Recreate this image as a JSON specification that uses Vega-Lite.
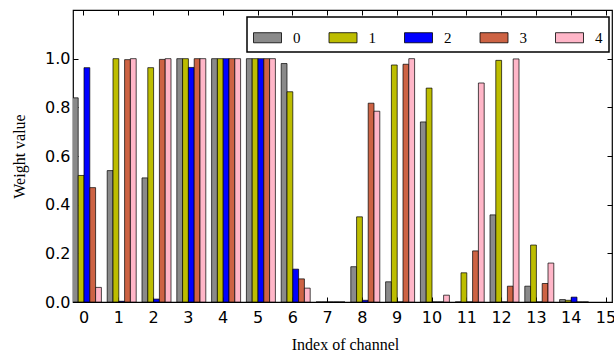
{
  "$schema": "https://vega.github.io/schema/vega-lite/v6.json",
  "autosize": "none",
  "padding": {"left": 73, "top": 10, "right": 2, "bottom": 52},
  "width": 539,
  "height": 292,
  "background": "white",
  "config": {
    "view": {"stroke": "black", "strokeWidth": 1.2},
    "axis": {
      "grid": false,
      "domain": false,
      "tickColor": "black",
      "tickSize": -5,
      "tickWidth": 1,
      "labelFont": "DejaVu Sans",
      "labelFontSize": 16,
      "labelColor": "black",
      "titleFont": "Liberation Serif",
      "titleFontSize": 16,
      "titleFontWeight": "normal",
      "titleColor": "black"
    }
  },
  "data": {
    "values": [
      {"channel": "0", "series": "0", "w": 0.839},
      {"channel": "0", "series": "1", "w": 0.52},
      {"channel": "0", "series": "2", "w": 0.963},
      {"channel": "0", "series": "3", "w": 0.47},
      {"channel": "0", "series": "4", "w": 0.06},
      {"channel": "1", "series": "0", "w": 0.54},
      {"channel": "1", "series": "1", "w": 1.0},
      {"channel": "1", "series": "2", "w": 0.003},
      {"channel": "1", "series": "3", "w": 0.996},
      {"channel": "1", "series": "4", "w": 1.0},
      {"channel": "2", "series": "0", "w": 0.51},
      {"channel": "2", "series": "1", "w": 0.963},
      {"channel": "2", "series": "2", "w": 0.012},
      {"channel": "2", "series": "3", "w": 0.997},
      {"channel": "2", "series": "4", "w": 1.0},
      {"channel": "3", "series": "0", "w": 1.0},
      {"channel": "3", "series": "1", "w": 1.0},
      {"channel": "3", "series": "2", "w": 0.964},
      {"channel": "3", "series": "3", "w": 1.0},
      {"channel": "3", "series": "4", "w": 1.0},
      {"channel": "4", "series": "0", "w": 1.0},
      {"channel": "4", "series": "1", "w": 1.0},
      {"channel": "4", "series": "2", "w": 1.0},
      {"channel": "4", "series": "3", "w": 1.0},
      {"channel": "4", "series": "4", "w": 1.0},
      {"channel": "5", "series": "0", "w": 1.0},
      {"channel": "5", "series": "1", "w": 1.0},
      {"channel": "5", "series": "2", "w": 1.0},
      {"channel": "5", "series": "3", "w": 1.0},
      {"channel": "5", "series": "4", "w": 1.0},
      {"channel": "6", "series": "0", "w": 0.98},
      {"channel": "6", "series": "1", "w": 0.864},
      {"channel": "6", "series": "2", "w": 0.135},
      {"channel": "6", "series": "3", "w": 0.095},
      {"channel": "6", "series": "4", "w": 0.057},
      {"channel": "7", "series": "0", "w": 0},
      {"channel": "7", "series": "1", "w": 0},
      {"channel": "7", "series": "2", "w": 0},
      {"channel": "7", "series": "3", "w": 0},
      {"channel": "7", "series": "4", "w": 0},
      {"channel": "8", "series": "0", "w": 0.145},
      {"channel": "8", "series": "1", "w": 0.35},
      {"channel": "8", "series": "2", "w": 0.007},
      {"channel": "8", "series": "3", "w": 0.817},
      {"channel": "8", "series": "4", "w": 0.784},
      {"channel": "9", "series": "0", "w": 0.083},
      {"channel": "9", "series": "1", "w": 0.974},
      {"channel": "9", "series": "2", "w": 0},
      {"channel": "9", "series": "3", "w": 0.977},
      {"channel": "9", "series": "4", "w": 1.0},
      {"channel": "10", "series": "0", "w": 0.74},
      {"channel": "10", "series": "1", "w": 0.879},
      {"channel": "10", "series": "2", "w": 0},
      {"channel": "10", "series": "3", "w": 0},
      {"channel": "10", "series": "4", "w": 0.028},
      {"channel": "11", "series": "0", "w": 0},
      {"channel": "11", "series": "1", "w": 0.12},
      {"channel": "11", "series": "2", "w": 0},
      {"channel": "11", "series": "3", "w": 0.21},
      {"channel": "11", "series": "4", "w": 0.9},
      {"channel": "12", "series": "0", "w": 0.358},
      {"channel": "12", "series": "1", "w": 0.993},
      {"channel": "12", "series": "2", "w": 0},
      {"channel": "12", "series": "3", "w": 0.065},
      {"channel": "12", "series": "4", "w": 0.999},
      {"channel": "13", "series": "0", "w": 0.065},
      {"channel": "13", "series": "1", "w": 0.234},
      {"channel": "13", "series": "2", "w": 0},
      {"channel": "13", "series": "3", "w": 0.076},
      {"channel": "13", "series": "4", "w": 0.16},
      {"channel": "14", "series": "0", "w": 0.01},
      {"channel": "14", "series": "1", "w": 0.007},
      {"channel": "14", "series": "2", "w": 0.02},
      {"channel": "14", "series": "3", "w": 0},
      {"channel": "14", "series": "4", "w": 0}
    ]
  },
  "layer": [
    {
      "mark": {"type": "bar", "stroke": "black", "strokeWidth": 0.7, "clip": true},
      "encoding": {
        "x": {
          "field": "channel",
          "type": "ordinal",
          "sort": null,
          "scale": {
            "domain": ["0","1","2","3","4","5","6","7","8","9","10","11","12","13","14","15"],
            "range": [-6.4, 550.4],
            "paddingInner": 0,
            "paddingOuter": 0
          },
          "axis": {"orient": "bottom", "labelAngle": 0, "labelPadding": 12, "title": "Index of channel", "titlePadding": 11}
        },
        "xOffset": {
          "field": "series",
          "type": "nominal",
          "scale": {"domain": ["pad","0","1","2","3","4"], "paddingInner": 0, "paddingOuter": 0}
        },
        "y": {
          "field": "w",
          "type": "quantitative",
          "scale": {"domain": [0, 1.2], "nice": false},
          "axis": {"orient": "left", "values": [0, 0.2, 0.4, 0.6, 0.8, 1.0], "format": ".1f", "labelPadding": 8, "title": "Weight value", "titlePadding": 17}
        },
        "color": {
          "field": "series",
          "type": "nominal",
          "scale": {"domain": ["0","1","2","3","4"], "range": ["#8a8a8a", "#bdbd00", "#0000ff", "#cd6344", "#ffb6c8"]},
          "legend": {
            "orient": "none",
            "legendX": 174,
            "legendY": 7,
            "direction": "horizontal",
            "columns": 5,
            "title": null,
            "symbolType": "M-1,-0.36H1V0.36H-1Z",
            "symbolSize": 784,
            "symbolStrokeColor": "black",
            "symbolStrokeWidth": 0.8,
            "symbolOpacity": 1,
            "labelFont": "Liberation Serif",
            "labelFontSize": 15,
            "labelColor": "black",
            "labelOffset": 11,
            "columnPadding": 25.5,
            "padding": 6,
            "strokeColor": "black",
            "fillColor": "white",
            "encode": {"legend": {"update": {"strokeWidth": {"value": 1.5}}}}
          }
        }
      }
    },
    {
      "mark": {"type": "bar", "opacity": 0, "clip": true},
      "encoding": {
        "x": {
          "field": "channel",
          "type": "ordinal",
          "sort": null,
          "axis": {"orient": "top", "labels": false, "title": null}
        },
        "xOffset": {"field": "series", "type": "nominal"},
        "y": {
          "field": "w",
          "type": "quantitative",
          "axis": {"orient": "right", "labels": false, "values": [0, 0.2, 0.4, 0.6, 0.8, 1.0], "title": null}
        }
      }
    }
  ],
  "resolve": {"axis": {"x": "independent", "y": "independent"}}
}
